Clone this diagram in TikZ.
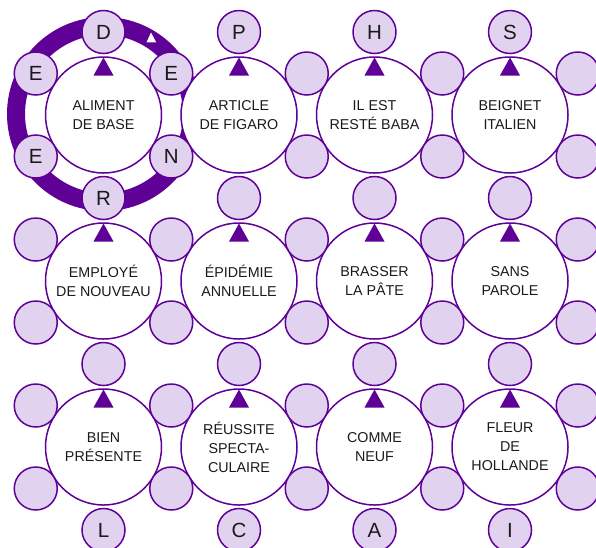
\documentclass[tikz,border=0pt]{standalone}
\usepackage{fontspec}
\setmainfont{Liberation Sans}
\usetikzlibrary{calc}
\definecolor{purp}{HTML}{5F0096}
\definecolor{lav}{HTML}{E1D3F0}
\definecolor{ink}{HTML}{1A1A1A}
\begin{document}
\begin{tikzpicture}[x=1pt,y=-1pt,
  big/.style={circle, draw=purp, line width=1.5pt, fill=white, minimum size=116pt, inner sep=0pt, align=center, font=\fontsize{14.3}{19}\selectfont, text=ink},
  small/.style={circle, draw=purp, line width=1.5pt, fill=lav, minimum size=43pt, inner sep=0pt, font=\fontsize{20.5}{24}\selectfont, text=ink},
  ring/.style={draw=purp, line width=18pt},
  marker/.style={fill=purp},
]
\path[use as bounding box] (0,0) rectangle (596,547);
\clip (0,0) rectangle (596,547);

% thick ring around the first clue
\draw[ring] (104,114) circle (88pt);

% clue circles
\node[big] (b11) at (103.5,115) {ALIMENT\\DE BASE};
\node[big] (b12) at (239,115) {ARTICLE\\DE FIGARO};
\node[big] (b13) at (374.5,115) {IL EST\\RESTÉ BABA};
\node[big] (b14) at (510,115) {BEIGNET\\ITALIEN};
\node[big] (b21) at (103.5,281) {EMPLOYÉ\\DE NOUVEAU};
\node[big] (b22) at (239,281) {ÉPIDÉMIE\\ANNUELLE};
\node[big] (b23) at (374.5,281) {BRASSER\\LA PÂTE};
\node[big] (b24) at (510,281) {SANS\\PAROLE};
\node[big] (b31) at (103.5,447) {BIEN\\PRÉSENTE};
\node[big] (b32) at (239,447) {RÉUSSITE\\SPECTA-\\CULAIRE};
\node[big] (b33) at (374.5,447) {COMME\\NEUF};
\node[big] (b34) at (510,447) {FLEUR\\DE\\HOLLANDE};

% vertical letter circles
\foreach \c/\x/\L in {1/103.5/D,2/239/P,3/374.5/H,4/510/S}
  \node[small] (v0\c) at (\x,32) {\L};
\foreach \c/\x/\L in {1/103.5/R,2/239/,3/374.5/,4/510/}
  \node[small] (v1\c) at (\x,198) {\L};
\foreach \c/\x in {1/103.5,2/239,3/374.5,4/510}
  \node[small] (v2\c) at (\x,364) {};
\foreach \c/\x/\L in {1/103.5/L,2/239/C,3/374.5/A,4/510/I}
  \node[small] (v3\c) at (\x,530) {\L};

% side circles
\foreach \k/\x/\U/\D in {0/35.75/E/E,1/171.25/E/N,2/306.75//,3/442.25//,4/577.75//}{
  \node[small] (s1\k u) at (\x,73.5) {\U};
  \node[small] (s1\k d) at (\x,156.5) {\D};
}
\foreach \r/\y in {2/281,3/447}
  \foreach \k/\x in {0/35.75,1/171.25,2/306.75,3/442.25,4/577.75}{
    \node[small] (s\r\k u) at (\x,\y-41.5) {};
    \node[small] (s\r\k d) at (\x,\y+41.5) {};
  }

% start markers
\foreach \n in {b11,b12,b13,b14,b21,b22,b23,b24,b31,b32,b33,b34}
  \fill[marker] ($(\n.center)+(-10,-39.5)$) -- ($(\n.center)+(10,-39.5)$) -- ($(\n.center)+(0,-57.5)$) -- cycle;

% direction marker on the ring
\fill[white] (146.5,42.3) -- (156.2,42.3) -- (151,32.5) -- cycle;
\end{tikzpicture}
\end{document}
